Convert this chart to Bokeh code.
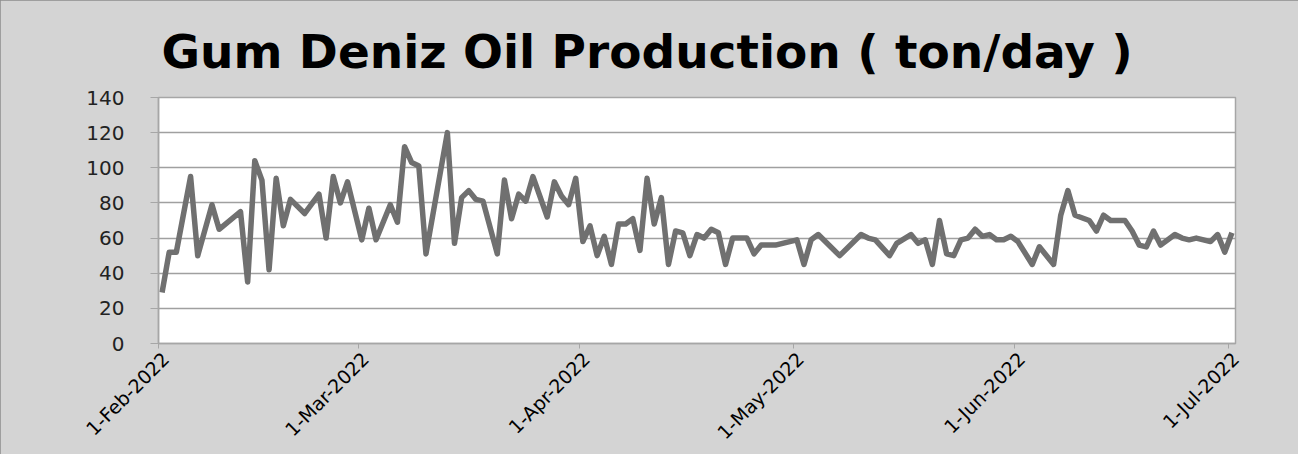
import pandas as pd
from bokeh.plotting import figure
from bokeh.models import FixedTicker, Range1d, LinearAxis
from bokeh.embed import file_html
from bokeh.resources import INLINE

TITLE = "Gum Deniz Oil Production ( ton/day )"
START = "2022-02-01"

dates = [
    "02-01", "02-02", "02-03", "02-05", "02-06", "02-08", "02-09", "02-12", "02-13", "02-14",
    "02-15", "02-16", "02-17", "02-18", "02-19", "02-21", "02-23", "02-24", "02-25", "02-26",
    "02-27", "03-01", "03-02", "03-03", "03-05", "03-06", "03-07", "03-08", "03-09", "03-10",
    "03-13", "03-14", "03-15", "03-16", "03-17", "03-18", "03-20", "03-21", "03-22", "03-23",
    "03-24", "03-25", "03-27", "03-28", "03-29", "03-30", "03-31", "04-01", "04-02", "04-03",
    "04-04", "04-05", "04-06", "04-07", "04-08", "04-09", "04-10", "04-11", "04-12", "04-13",
    "04-14", "04-15", "04-16", "04-17", "04-18", "04-19", "04-20", "04-21", "04-22", "04-24",
    "04-25", "04-26", "04-28", "04-29", "05-01", "05-02", "05-03", "05-04", "05-07", "05-10",
    "05-11", "05-12", "05-14", "05-15", "05-17", "05-18", "05-19", "05-20", "05-21", "05-22",
    "05-23", "05-24", "05-25", "05-26", "05-27", "05-28", "05-29", "05-30", "05-31", "06-01",
    "06-03", "06-04", "06-06", "06-07", "06-08", "06-09", "06-11", "06-12", "06-13", "06-14",
    "06-16", "06-17", "06-18", "06-19", "06-20", "06-21", "06-23", "06-24", "06-25", "06-26",
    "06-28", "06-29", "06-30", "07-01",
]
production = [
    29, 52, 52, 95, 50, 79, 65, 75, 35, 104,
    93, 42, 94, 67, 82, 74, 85, 60, 95, 80,
    92, 59, 77, 59, 79, 69, 112, 103, 101, 51,
    120, 57, 83, 87, 82, 81, 51, 93, 71, 85,
    81, 95, 72, 92, 84, 79, 94, 58, 67, 50,
    61, 45, 68, 68, 71, 53, 94, 68, 83, 45,
    64, 63, 50, 62, 60, 65, 63, 45, 60, 60,
    51, 56, 56, 57, 59, 45, 59, 62, 50, 62,
    60, 59, 50, 57, 62, 57, 59, 45, 70, 51,
    50, 59, 60, 65, 61, 62, 59, 59, 61, 58,
    45, 55, 45, 73, 87, 73, 70, 64, 73, 70,
    70, 64, 56, 55, 64, 56, 62, 60, 59, 60,
    58, 62, 52, 63,
]
tick_dates = ["2022-02-01", "2022-03-01", "2022-04-01", "2022-05-01", "2022-06-01", "2022-07-01"]
tick_labels = ["1-Feb-2022", "1-Mar-2022", "1-Apr-2022", "1-May-2022", "1-Jun-2022", "1-Jul-2022"]
y_ticks = [0, 20, 40, 60, 80, 100, 120, 140]

start = pd.Timestamp(START)
# Excel date axis: each day's point sits in the middle of its day
x = [(pd.Timestamp("2022-" + d) - start).days + 0.5 for d in dates]
tick_pos = [(pd.Timestamp(t) - start).days for t in tick_dates]

p = figure(width=1298, height=454, output_backend="svg", toolbar_location=None,
           x_range=Range1d(0, 151), y_range=Range1d(0, 140),
           min_border_left=158, min_border_right=63, min_border_top=97, min_border_bottom=108)
p.styles = {"outline": "2px solid #8c8c8c", "outline-offset": "-2px"}

BG = "#d4d4d4"
p.background_fill_color = "white"
p.border_fill_color = BG
p.outline_line_color = "#a6a6a6"
p.outline_line_width = 1.5

p.line(x, production, line_color="#707070", line_width=5.5, line_join="round")

# title
p.title.text = TITLE
p.title.text_font = "DejaVu Sans"
p.title.text_font_style = "bold"
p.title.text_font_size = "47px"
p.title.text_color = "black"
p.title.align = "left"
p.title.offset = 3
p.title.standoff = 37

# x axis: ticks only
p.xaxis.ticker = FixedTicker(ticks=tick_pos)
p.xaxis.major_label_text_font_size = "1px"
p.xaxis.major_label_text_alpha = 0
p.xaxis.major_label_standoff = 0
p.xaxis.axis_line_color = "#a6a6a6"
p.xaxis.axis_line_width = 1.5
p.xaxis.major_tick_line_color = "#a6a6a6"
p.xaxis.major_tick_out = 5
p.xaxis.major_tick_in = 0
p.xaxis.minor_tick_line_color = None
p.xgrid.grid_line_color = None

# second bottom axis carrying the slanted date labels, nudged right like Excel's
p.extra_x_ranges = {"lab": Range1d(-1.0, 150.0)}
lab_axis = LinearAxis(x_range_name="lab", ticker=FixedTicker(ticks=tick_pos),
                      major_label_overrides={tp: lb for tp, lb in zip(tick_pos, tick_labels)})
lab_axis.major_label_orientation = 0.785398
lab_axis.major_label_text_font = "DejaVu Sans"
lab_axis.major_label_text_font_size = "19px"
lab_axis.major_label_text_color = "black"
lab_axis.major_label_standoff = 1
lab_axis.axis_line_color = None
lab_axis.major_tick_line_color = None
lab_axis.minor_tick_line_color = None
p.add_layout(lab_axis, "below")

# y axis
p.yaxis.ticker = FixedTicker(ticks=y_ticks)
p.yaxis.major_label_text_font = "DejaVu Sans"
p.yaxis.major_label_text_font_size = "20px"
p.yaxis.major_label_text_color = "#222222"
p.yaxis.major_label_standoff = 26
p.yaxis.axis_line_color = "#a6a6a6"
p.yaxis.axis_line_width = 1.5
p.yaxis.major_tick_line_color = "#a6a6a6"
p.yaxis.major_tick_out = 8
p.yaxis.major_tick_in = 0
p.yaxis.minor_tick_line_color = None
p.ygrid.grid_line_color = "#a0a0a0"
p.ygrid.grid_line_width = 1.5

open("out.html", "w").write(file_html(p, INLINE))
